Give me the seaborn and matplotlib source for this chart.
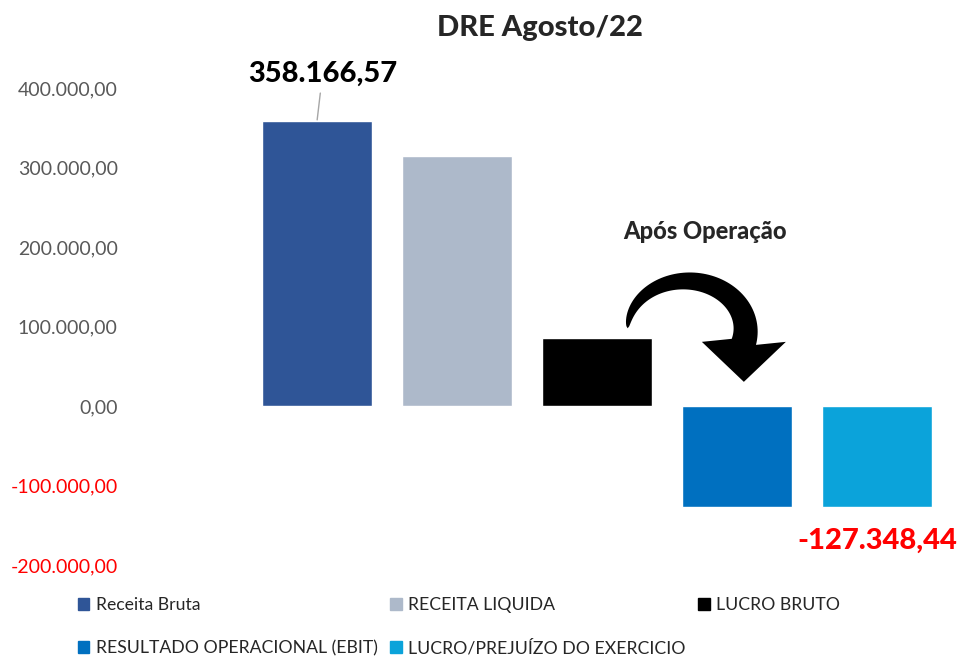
import matplotlib
matplotlib.use("Agg")
import matplotlib.pyplot as plt
import matplotlib.transforms as mtransforms
from matplotlib.patches import Patch, Polygon
import numpy as np
import seaborn as sns
import pandas as pd

# DRE values (BRL)
categories = ["Receita Bruta", "RECEITA LIQUIDA", "LUCRO BRUTO",
              "RESULTADO OPERACIONAL (EBIT)", "LUCRO/PREJUÍZO DO EXERCICIO"]
values = [358166.57, 314500.00, 86000.00, -127348.44, -127348.44]
colors = ["#2F5597", "#ADB9CA", "#000000", "#0070C0", "#0BA3DA"]
yticks = [-200000, -100000, 0, 100000, 200000, 300000, 400000]


def fmt_br(v):
    s = f"{v:,.2f}"
    return s.replace(",", "X").replace(".", ",").replace("X", ".")


sns.set_style("white")
plt.rcParams["font.family"] = ["Lato", "DejaVu Sans"]

df = pd.DataFrame({"item": categories, "valor": values})

fig = plt.figure(figsize=(9.59, 6.59), dpi=100)
ax = fig.add_axes([247 / 959, 1 - 565 / 659, 700 / 959, (565 - 88) / 659])

sns.barplot(data=df, x="item", y="valor", hue="item", order=categories,
            hue_order=categories, palette=colors, dodge=False, width=0.79,
            saturation=1, legend=False, ax=ax)

ax.set_ylim(-200000, 400000)
ax.set_xlim(-0.5, 4.5)
ax.set_yticks(yticks)
ax.set_yticklabels([fmt_br(t) for t in yticks])
for lab, t in zip(ax.get_yticklabels(), yticks):
    lab.set_color("#FF0000" if t < 0 else "#595959")
ax.tick_params(axis="y", length=0, pad=93, labelsize=14)
ax.set_xticks([])
ax.set_xlabel("")
ax.set_ylabel("")
sns.despine(ax=ax, left=True, bottom=True)

# data labels
ax.annotate(fmt_br(values[0]), xy=(0, values[0]), xytext=(4, 34),
            textcoords="offset points", ha="center", va="center",
            fontsize=21, fontweight="black", color="black",
            arrowprops=dict(arrowstyle="-", color="#A6A6A6", lw=1,
                            shrinkA=2, shrinkB=1))
ax.annotate(fmt_br(values[4]), xy=(4, values[4]), xytext=(0, -24),
            textcoords="offset points", ha="center", va="center",
            fontsize=21, fontweight="black", color="#FF0000")

# curved "Após Operação" arrow, shape drawn in pixels around an anchor point
theta = np.radians(np.linspace(178, -14, 80))
thick = 25 * np.sqrt((np.degrees(theta.max()) - np.degrees(theta)) / 192)
rx, ry = 59, 49
outer = np.c_[(rx + thick / 2) * np.cos(theta), (ry + thick / 2) * np.sin(theta)]
inner = np.c_[(rx - thick / 2) * np.cos(theta), (ry - thick / 2) * np.sin(theta)]
hx, hy = rx * np.cos(theta[-1]), ry * np.sin(theta[-1])
head = np.array([[hx + 42, hy], [hx, hy - 40], [hx - 42, hy]])
shape = np.vstack([outer, head, inner[::-1]]) / 100.0
arrow_tr = fig.dpi_scale_trans + mtransforms.ScaledTranslation(2.64, 95600, ax.transData)
ax.add_patch(Polygon(shape, closed=True, facecolor="black", edgecolor="none",
                     transform=arrow_tr, clip_on=False))
fig.text(705 / 959, 1 - 231 / 659, "Após Operação", ha="center", va="center",
         fontsize=17, fontweight="black")

fig.text(540 / 959, 1 - 28 / 659, "DRE Agosto/22", ha="center", va="center",
         fontsize=21, fontweight="black")

# legend: row-major order in 3 columns
handles = [Patch(color=c) for c in colors]
order = [0, 3, 1, 4, 2]
fig.legend([handles[i] for i in order], [categories[i] for i in order],
           ncol=3, loc="lower left", bbox_to_anchor=(78 / 959, 0.004),
           frameon=False, fontsize=12.7, handlelength=0.65, handleheight=0.65,
           handletextpad=0.35, columnspacing=0.72, labelspacing=1.5,
           borderpad=0.0, borderaxespad=0, labelcolor="#262626")

fig.savefig("out.png", dpi=100)
